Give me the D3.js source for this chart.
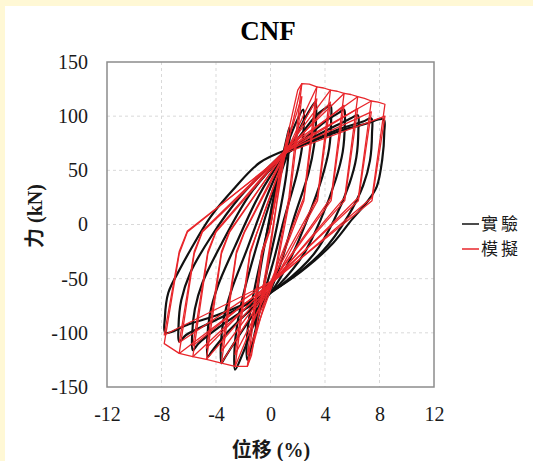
<!DOCTYPE html>
<html>
<head>
<meta charset="utf-8">
<script src="https://cdn.jsdelivr.net/npm/d3@7"></script>
<style>
  body { margin: 0; background: #fff; }
</style>
</head>
<body>
<div id="chart"></div>
<script>
// Axis ticks
const xTicks = [-12, -8, -4, 0, 4, 8, 12];
const yTicks = [-150, -100, -50, 0, 50, 100, 150];
const seriesNames = ["實驗", "模擬"];

// Test (black) loops: [displacement %, force kN]
const expLoops = [
  [[0, 0], [0.6, 45], [1.2, 80], [1.4, 90], [1.2, 50], [0.5, 0], [-0.3, -45], [-0.9, -80], [-1.1, -95],
   [-0.9, -55], [-0.3, -10], [0.4, 35], [1.0, 65]],
  [[1.0, 65], [1.8, 92], [2.4, 106], [2.45, 94], [2.3, 70], [1.9, 45], [1.0, 5], [0.3, -30], [-0.6, -70],
   [-1.3, -108], [-1.7, -125], [-1.75, -110], [-1.55, -85], [-1.1, -55], [-0.3, -10], [0.6, 40], [1.2, 63]],
  [[1.2, 63], [2.2, 90], [2.9, 106], [3.3, 113], [3.35, 99], [3.2, 73], [2.8, 48], [1.7, 5], [0.9, -30],
   [0.1, -58], [-1.0, -85], [-2.0, -118], [-2.6, -134], [-2.65, -118], [-2.45, -93], [-2.0, -65],
   [-0.9, -15], [0.2, 30], [1.1, 63]],
  [[1.1, 63], [2.3, 84], [3.3, 100], [4.0, 107], [4.4, 110], [4.45, 96], [4.3, 70], [3.8, 44], [2.7, 5],
   [1.6, -28], [0.4, -56], [-1.2, -82], [-2.6, -108], [-3.4, -124], [-3.6, -128], [-3.65, -114],
   [-3.45, -88], [-2.9, -62], [-1.7, -22], [-0.3, 25], [1.0, 63]],
  [[1.0, 63], [2.6, 80], [4.0, 95], [5.0, 103], [5.4, 106], [5.45, 92], [5.3, 67], [4.8, 42], [3.7, 5],
   [2.4, -28], [0.6, -56], [-1.4, -78], [-3.2, -100], [-4.3, -117], [-4.6, -122], [-4.65, -108],
   [-4.45, -83], [-3.9, -58], [-2.6, -20], [-0.8, 28], [1.0, 64]],
  [[1.0, 64], [2.8, 78], [4.6, 90], [5.9, 98], [6.4, 101], [6.45, 87], [6.3, 62], [5.8, 38], [4.7, 5],
   [3.2, -27], [0.8, -56], [-1.6, -76], [-3.8, -95], [-5.3, -110], [-5.7, -116], [-5.75, -102],
   [-5.55, -78], [-5.0, -54], [-3.6, -18], [-1.5, 28], [1.1, 66]],
  [[1.1, 66], [3.0, 77], [5.0, 88], [6.8, 95], [7.4, 98], [7.45, 84], [7.3, 59], [6.8, 36], [5.7, 8],
   [3.8, -25], [0.8, -56], [-1.8, -74], [-4.3, -90], [-6.2, -102], [-6.7, -108], [-6.75, -94],
   [-6.55, -70], [-5.9, -45], [-4.4, -12], [-2.2, 26], [1.1, 68]],
  [[1.1, 68], [2.7, 75], [5.0, 86], [7.0, 93], [8.3, 97], [8.35, 85], [8.2, 60], [7.8, 35], [7.1, 21],
   [6.0, 5], [4.6, -17], [2.7, -39], [0.7, -57], [-1.5, -71], [-4.0, -84], [-6.0, -92], [-7.7, -100],
   [-7.75, -86], [-7.5, -63], [-6.6, -40], [-5.9, -24], [-4.4, 7], [-2.75, 32], [-0.8, 57], [1.2, 69]]
];

// Model (red) loops
const simLoops = [
  [[0, 0], [0.8, 58], [1.3, 85], [0.45, 18], [-0.3, -48], [-0.9, -85], [-0.05, -20], [1.0, 64]],
  [[1.0, 64], [1.3, 85], [2.0, 124], [2.3, 130], [1.35, 25], [0.2, -52], [-0.9, -85], [-1.4, -121],
   [-1.7, -131], [-0.6, -27], [-0.1, -8], [0.9, 62]],
  [[0.9, 62], [2.3, 118], [1.4, 22], [0.3, -50], [-1.7, -120], [-0.65, -25], [-0.1, -6], [1.1, 66]],
  [[1.1, 66], [2.3, 130], [2.85, 129.5], [3.4, 127], [2.45, 25], [-0.1, -57], [-1.7, -131], [-2.6, -131],
   [-1.5, -27], [-1.0, -8], [1.0, 63]],
  [[1.0, 63], [3.4, 116], [2.45, 22], [0.2, -52], [-2.6, -120], [-1.5, -25], [-0.95, -6], [1.2, 68]],
  [[1.2, 68], [3.4, 127], [3.9, 126], [4.4, 124], [3.45, 25], [-0.2, -58], [-2.6, -131], [-3.6, -128],
   [-2.5, -27], [-1.9, -7], [1.1, 65]],
  [[1.1, 65], [4.4, 113], [3.45, 22], [0.4, -49], [-3.6, -117], [-2.5, -25], [-1.9, -6], [1.2, 70]],
  [[1.2, 70], [4.4, 124], [4.9, 123], [5.4, 121], [4.45, 25], [0.0, -55], [-3.6, -128], [-4.7, -124.5],
   [-3.6, -27], [-3.0, -7], [1.0, 66]],
  [[1.0, 66], [5.4, 110], [4.45, 22], [0.3, -50], [-4.7, -114], [-3.6, -25], [-3.0, -6], [1.3, 71]],
  [[1.3, 71], [5.4, 121], [5.9, 120], [6.4, 118], [5.45, 25], [-0.1, -57], [-4.7, -124.5], [-5.7, -122],
   [-4.6, -27], [-4.0, -7], [1.1, 67]],
  [[1.1, 67], [6.4, 107], [5.45, 22], [0.2, -52], [-5.7, -112], [-4.6, -25], [-4.0, -6], [1.3, 72]],
  [[1.3, 72], [6.4, 118], [6.9, 116.5], [7.4, 114], [6.45, 25], [-0.2, -58], [-5.7, -122], [-6.7, -119],
   [-5.6, -27], [-5.0, -7], [1.2, 68]],
  [[1.2, 68], [7.4, 104], [6.45, 22], [0.3, -50], [-6.7, -109], [-5.6, -25], [-5.0, -6], [1.2, 70]],
  [[1.2, 70], [7.4, 114], [7.9, 113], [8.4, 111], [7.45, 25], [0.0, -55], [-6.7, -119], [-7.8, -110],
   [-6.7, -27], [-6.1, -7], [1.1, 66]],
  [[1.1, 66], [8.4, 100], [7.45, 22], [0.2, -52], [-7.8, -102], [-6.7, -25], [-6.1, -6], [1.0, 64]]
];

const width = 533;
const height = 461;

const svg = d3
  .select("#chart")
  .append("svg")
  .attr("width", width)
  .attr("height", height);

// Page background: cream band behind a white sheet
svg.append("rect").attr("width", width).attr("height", height).attr("fill", "#fff8d5");
svg.append("rect").attr("x", 5).attr("y", 6).attr("width", width - 5).attr("height", height - 6).attr("fill", "#fff");

const x = d3.scaleLinear().domain([-12, 12]).range([107, 434]);
const y = d3.scaleLinear().domain([-150, 150]).range([387, 62]);

const serif = "'Liberation Serif', 'Times New Roman', serif";
const serifCjk = "'Liberation Serif', 'Noto Sans CJK TC', serif";

// Gridlines
const grid = svg.append("g");
grid
  .selectAll("line.vx")
  .data(xTicks.slice(1, -1))
  .enter()
  .append("line")
  .attr("x1", (d) => x(d))
  .attr("x2", (d) => x(d))
  .attr("y1", y(150))
  .attr("y2", y(-150))
  .attr("stroke", "#d9d9d9")
  .attr("stroke-dasharray", "3,3");
grid
  .selectAll("line.hy")
  .data(yTicks.slice(1, -1))
  .enter()
  .append("line")
  .attr("x1", x(-12))
  .attr("x2", x(12))
  .attr("y1", (d) => y(d))
  .attr("y2", (d) => y(d))
  .attr("stroke", "#d9d9d9")
  .attr("stroke-dasharray", "3,3");

// Clip for the curves
svg
  .append("clipPath")
  .attr("id", "plot-clip")
  .append("rect")
  .attr("x", x(-12))
  .attr("y", y(150))
  .attr("width", x(12) - x(-12))
  .attr("height", y(-150) - y(150));

const smooth = d3
  .line()
  .x((d) => x(d[0]))
  .y((d) => y(d[1]))
  .curve(d3.curveCatmullRom.alpha(0.5));

const straight = d3
  .line()
  .x((d) => x(d[0]))
  .y((d) => y(d[1]));

const curves = svg.append("g").attr("clip-path", "url(#plot-clip)");

curves
  .selectAll("path.exp")
  .data(expLoops)
  .enter()
  .append("path")
  .attr("d", smooth)
  .attr("fill", "none")
  .attr("stroke", "#111")
  .attr("stroke-width", 2.2)
  .attr("stroke-linejoin", "round");

curves
  .selectAll("path.sim")
  .data(simLoops)
  .enter()
  .append("path")
  .attr("d", straight)
  .attr("fill", "none")
  .attr("stroke", "#e8262b")
  .attr("stroke-width", 1.3)
  .attr("stroke-linejoin", "round");

// Plot border
svg
  .append("rect")
  .attr("x", x(-12))
  .attr("y", y(150))
  .attr("width", x(12) - x(-12))
  .attr("height", y(-150) - y(150))
  .attr("fill", "none")
  .attr("stroke", "#8c8c8c")
  .attr("stroke-width", 1.5);

// Axes (plain hyphen minus, as in the reference)
const fmt = (d) => String(d);
const yAxis = svg
  .append("g")
  .attr("transform", `translate(${x(-12)},0)`)
  .call(d3.axisLeft(y).tickValues(yTicks).tickFormat(fmt).tickSize(0).tickPadding(19));
const xAxis = svg
  .append("g")
  .attr("transform", `translate(0,${y(-150)})`)
  .call(d3.axisBottom(x).tickValues(xTicks).tickFormat(fmt).tickSize(0).tickPadding(20));
[xAxis, yAxis].forEach((g) => {
  g.select(".domain").remove();
  g.selectAll("text")
    .style("font-family", serif)
    .style("font-size", "20px")
    .attr("fill", "#1a1a1a");
});

// Title and axis titles
svg
  .append("text")
  .attr("x", 268)
  .attr("y", 40)
  .attr("text-anchor", "middle")
  .style("font-family", serif)
  .style("font-size", "27px")
  .style("font-weight", "bold")
  .text("CNF");

svg
  .append("text")
  .attr("x", 271)
  .attr("y", 457)
  .attr("text-anchor", "middle")
  .style("font-family", serifCjk)
  .style("font-size", "20px")
  .style("font-weight", "bold")
  .attr("fill", "#1a1a1a")
  .text("位移 (%)");

svg
  .append("text")
  .attr("transform", "translate(42,216) rotate(-90)")
  .attr("text-anchor", "middle")
  .style("font-family", serifCjk)
  .style("font-size", "20px")
  .style("font-weight", "bold")
  .attr("fill", "#1a1a1a")
  .text("力 (kN)");

// Legend
const legendColors = ["#111", "#e8262b"];
const legend = svg.append("g").attr("transform", "translate(462,224)");
legend
  .selectAll("line")
  .data(seriesNames)
  .enter()
  .append("line")
  .attr("x1", 0)
  .attr("x2", 17)
  .attr("y1", (d, i) => i * 25)
  .attr("y2", (d, i) => i * 25)
  .attr("stroke", (d, i) => legendColors[i])
  .attr("stroke-width", 1.5);
legend
  .selectAll("text")
  .data(seriesNames)
  .enter()
  .append("text")
  .attr("x", 19)
  .attr("y", (d, i) => i * 25)
  .attr("dy", "0.36em")
  .text((d) => d)
  .style("font-family", "'Noto Sans CJK TC'")
  .style("font-size", "17px")
  .style("letter-spacing", "3px")
  .attr("fill", "#1a1a1a");
</script>
</body>
</html>
